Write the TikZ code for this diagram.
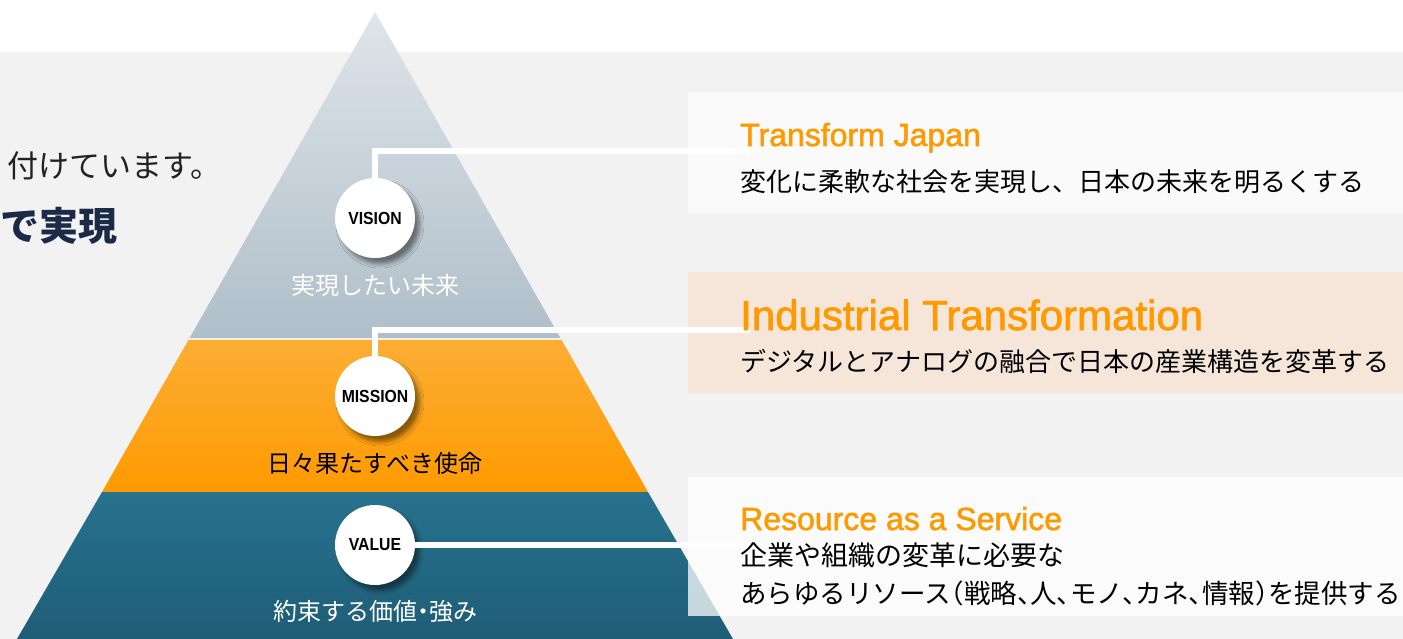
\documentclass[tikz,border=0pt]{standalone}
\usepackage{fontspec}
\setmainfont{Noto Sans CJK JP}
\newfontfamily\jpfont{Noto Sans CJK JP}
\newfontfamily\jphalt{Noto Sans CJK JP}[RawFeature=+halt]
\newfontfamily\latfont{Liberation Sans}
\newfontfamily\headfont{Liberation Sans}[FakeBold=1.6]
\usetikzlibrary{shadows.blur}
\definecolor{bggray}{HTML}{F2F2F2}
\definecolor{txtdark}{HTML}{222222}
\definecolor{navy}{HTML}{1C2A48}
\definecolor{accent}{HTML}{FF9900}
\definecolor{peach}{HTML}{F6E6D9}
\definecolor{grayTop}{HTML}{DFE5EA}
\definecolor{grayBot}{HTML}{AFBEC9}
\definecolor{orTop}{HTML}{FBAE36}
\definecolor{orBot}{HTML}{FF9A00}
\definecolor{tealTop}{HTML}{27728F}
\definecolor{tealBot}{HTML}{1F5D76}
\newcommand{\circlabel}[1]{{\latfont\bfseries\fontsize{17.5pt}{17.5pt}\selectfont\scalebox{0.9}[1]{#1}}}
\tikzset{
  circ/.style={circle, fill=white, minimum size=80pt, inner sep=0pt,
    blur shadow={shadow xshift=5pt, shadow yshift=-6pt, shadow blur radius=4pt, shadow opacity=45}},
  conn/.style={draw=white, line width=6pt},
  head/.style={anchor=base west, inner sep=0pt, text=accent},
  body/.style={anchor=west, inner sep=0pt, text=black, font=\jpfont\fontsize{26pt}{26pt}\selectfont},
  plabel/.style={inner sep=0pt, font=\jpfont\fontsize{24pt}{24pt}\selectfont}
}
\begin{document}
\begin{tikzpicture}[x=1pt,y=-1pt]
\useasboundingbox (0,0) rectangle (1403,639);
% background
\fill[white] (0,0) rectangle (1403,52);
\fill[bggray] (0,52) rectangle (1403,639);
% left texts
\node[anchor=west, inner sep=0pt, text=txtdark, font=\jpfont\fontsize{31pt}{31pt}\selectfont] (lead) at (7,166) {付けています。};
\node[anchor=west, inner sep=0pt, text=navy, font=\jpfont\bfseries\fontsize{39pt}{39pt}\selectfont] (leadbold) at (0,226) {で実現};
% pyramid
\shade[top color=grayTop, bottom color=grayBot] (375,12) -- (561,339) -- (189,339) -- cycle;
\shade[top color=orTop, bottom color=orBot] (189,339) -- (561,339) -- (648,492) -- (102,492) -- cycle;
\shade[top color=tealTop, bottom color=tealBot] (102,492) -- (648,492) -- (733,639) -- (17,639) -- cycle;
\draw[white, line width=1.5pt, opacity=0.8] (189,339) -- (561,339);
% boxes
\fill[white, opacity=0.65] (688,92) rectangle (1403,213);
\fill[peach] (688,272) rectangle (1403,393);
\fill[white, opacity=0.75] (688,477) rectangle (1403,616);
% end points of connectors
\coordinate (visend) at (750,151);
\coordinate (misend) at (750,330);
\coordinate (valend) at (750,545);
% circles
\node[circ] (vision) at (375,218) {\circlabel{VISION}};
\node[circ] (mission) at (375,396) {\circlabel{MISSION}};
\node[circ] (value) at (375,545) {\circlabel{VALUE}};
% connectors
\draw[conn] (vision.north) |- (visend);
\draw[conn] (mission.north) |- (misend);
\draw[conn] (value.east) -- (valend);
% pyramid labels
\node[plabel, text=white] (p1) at (375,285) {実現したい未来};
\node[plabel, text=black] (p2) at (375,463) {日々果たすべき使命};
\node[plabel, text=white, font=\jphalt\fontsize{24pt}{24pt}\selectfont] (p3) at (375,611) {約束する価値・強み};
% box texts
\node[head, font=\headfont\fontsize{32pt}{32pt}\selectfont] (h1) at (740,146) {Transform Japan};
\node[body] (b1) at (740,182) {変化に柔軟な社会を実現し、日本の未来を明るくする};
\node[head, font=\headfont\fontsize{42pt}{42pt}\selectfont] (h2) at (740,330) {Industrial Transformation};
\node[body] (b2) at (740,362) {デジタルとアナログの融合で日本の産業構造を変革する};
\node[head, font=\headfont\fontsize{32pt}{32pt}\selectfont] (h3) at (740,530) {Resource as a Service};
\node[body, font=\jpfont\fontsize{27pt}{27pt}\selectfont] (b3a) at (740,555) {企業や組織の変革に必要な};
\node[body, font=\jphalt\fontsize{26.5pt}{26.5pt}\selectfont] (b3b) at (740,593) {あらゆるリソース（戦略、人、モノ、カネ、情報）を提供する};
\end{tikzpicture}
\end{document}
